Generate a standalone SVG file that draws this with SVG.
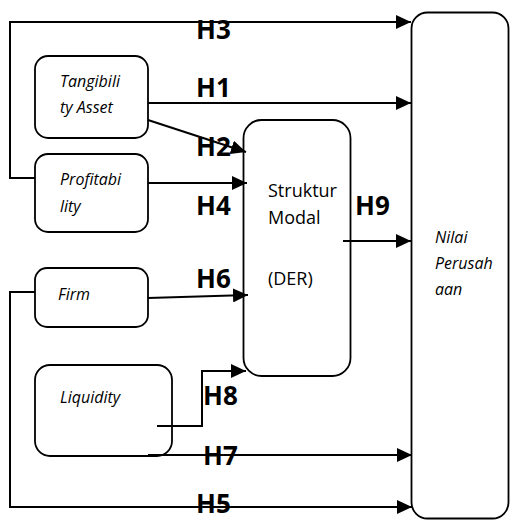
<svg xmlns="http://www.w3.org/2000/svg" width="510" height="521" viewBox="0 0 510 521">
<style>
.box{fill:#fff;stroke:#000;stroke-width:1.8}
.ln{fill:none;stroke:#000;stroke-width:2;marker-end:url(#ah)}
.h{font-family:"Open Sans","Liberation Sans",Arial,sans-serif;font-weight:bold;font-size:26px;fill:#000}
.it{font-family:"Open Sans","Liberation Sans",Arial,sans-serif;font-style:italic;font-size:16px;fill:#000}
.rg{font-family:"Open Sans","Liberation Sans",Arial,sans-serif;font-size:18px;fill:#000}
</style>
<defs>
<marker id="ah" markerUnits="userSpaceOnUse" markerWidth="15" markerHeight="14" refX="15" refY="7" orient="auto">
<path d="M0,0 L15,7 L0,14 z" fill="#000"/>
</marker>
</defs>
<rect width="510" height="521" fill="#fff"/>
<g id="nilai">
<rect class="box" x="411.5" y="12.5" width="97" height="506" rx="16"/>
<text class="it" x="435" y="243">Nilai</text>
<text class="it" x="435" y="269">Perusah</text>
<text class="it" x="435" y="295">aan</text>
</g>
<g id="struktur">
<rect class="box" x="243.5" y="120" width="107" height="256" rx="18"/>
<text class="rg" x="268" y="197">Struktur</text>
<text class="rg" x="268" y="224">Modal</text>
<text class="rg" x="268" y="285">(DER)</text>
</g>
<g id="tangibility">
<rect class="box" x="35" y="56" width="113" height="82" rx="13"/>
<text class="it" x="60" y="87">Tangibili</text>
<text class="it" x="60" y="113">ty Asset</text>
</g>
<g id="profitability">
<rect class="box" x="35" y="154" width="113" height="78" rx="13"/>
<text class="it" x="60" y="185">Profitabi</text>
<text class="it" x="60" y="212">lity</text>
</g>
<g id="firm">
<rect class="box" x="35" y="268" width="113" height="59" rx="12"/>
<text class="it" x="58" y="300">Firm</text>
</g>
<g id="liquidity">
<rect class="box" x="35" y="365" width="137" height="91" rx="15"/>
<text class="it" x="60" y="403">Liquidity</text>
</g>
<g id="connectors">
<polyline class="ln" points="35,178 10,178 10,22 411,22"/>
<line class="ln" x1="148" y1="103" x2="411" y2="103"/>
<line class="ln" x1="148" y1="120" x2="246" y2="152"/>
<line class="ln" x1="148" y1="183" x2="247" y2="183"/>
<line class="ln" x1="148" y1="298" x2="248" y2="295"/>
<line class="ln" x1="343" y1="241" x2="411" y2="241"/>
<polyline class="ln" points="157,426 202,426 202,371 246,371"/>
<line class="ln" x1="148" y1="455" x2="412" y2="455"/>
<polyline class="ln" points="35,292 10,292 10,507 412,507"/>
</g>
<g id="labels">
<text class="h" x="196" y="39">H3</text>
<text class="h" x="196" y="97">H1</text>
<text class="h" x="196" y="156">H2</text>
<text class="h" x="196" y="215">H4</text>
<text class="h" x="196" y="288">H6</text>
<text class="h" x="355" y="215">H9</text>
<text class="h" x="203" y="405">H8</text>
<text class="h" x="203" y="465">H7</text>
<text class="h" x="196" y="513">H5</text>
</g>
</svg>
